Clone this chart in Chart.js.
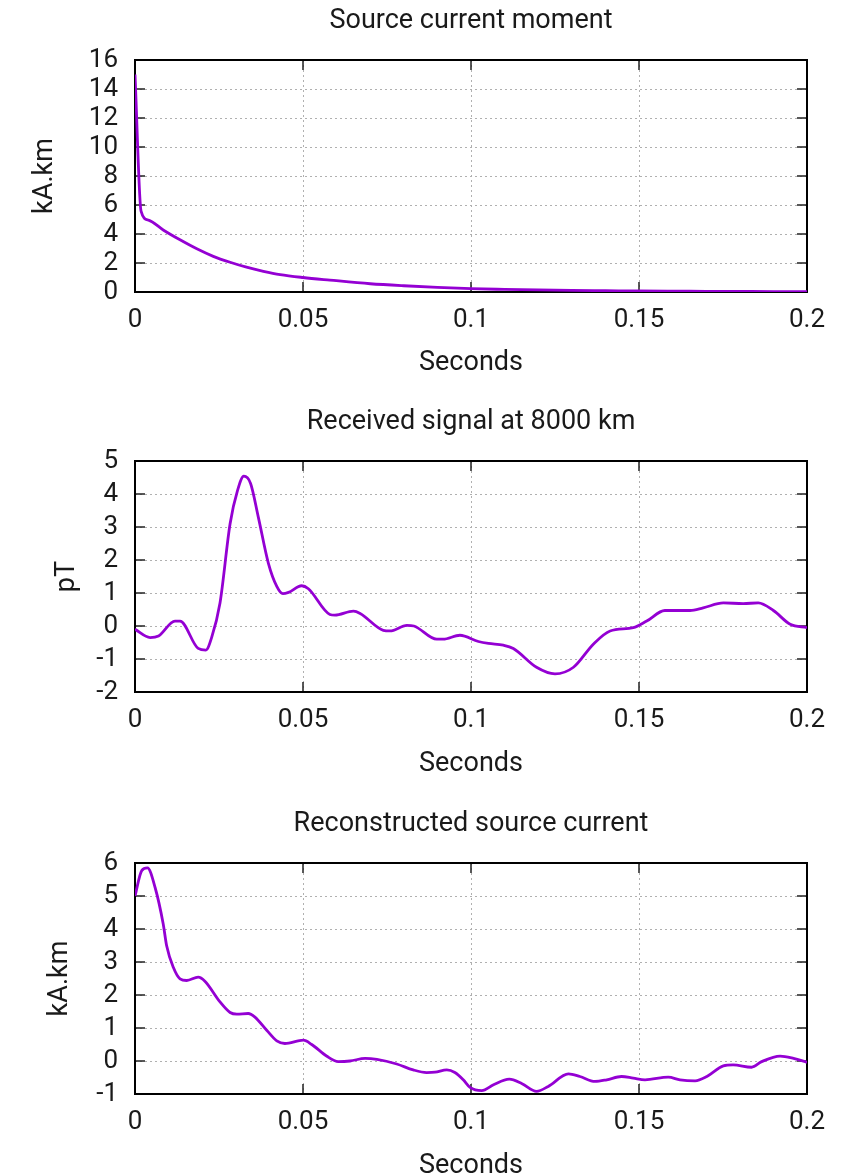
<!DOCTYPE html>
<html><head><meta charset="utf-8">
<script src="https://cdn.jsdelivr.net/npm/chart.js@4.4.1/dist/chart.umd.min.js"></script>
<style>
body{margin:0;background:#fff;width:851px;height:1175px;position:relative;overflow:hidden}
canvas{position:absolute;left:0}
</style></head><body>
<canvas id="c1" width="851" height="400" style="top:0px"></canvas>
<canvas id="c2" width="851" height="400" style="top:401px"></canvas>
<canvas id="c3" width="851" height="400" style="top:803px"></canvas>
<script>
// ---- data ----
const xTickValues = [0, 0.05, 0.1, 0.15, 0.2];
const xTickLabels = ["0", "0.05", "0.1", "0.15", "0.2"];

const srcTitle = "Source current moment";
const srcTime = [0, 0.0018, 0.004, 0.0084, 0.0134, 0.0184, 0.0233, 0.0283, 0.0332, 0.0382, 0.0432, 0.05, 0.058, 0.07, 0.08, 0.09, 0.1, 0.11, 0.12, 0.13, 0.14, 0.15, 0.16, 0.17, 0.18, 0.19, 0.2];
const srcMoment = [15, 5.58, 4.96, 4.28, 3.6, 2.98, 2.46, 2.05, 1.71, 1.43, 1.2, 1.0, 0.82, 0.57, 0.43, 0.32, 0.23, 0.18, 0.14, 0.11, 0.09, 0.07, 0.06, 0.05, 0.04, 0.03, 0.03];
const srcYTicks = [0, 2, 4, 6, 8, 10, 12, 14, 16];

const sigTitle = "Received signal at 8000 km";
const sigTime = [0, 0.0045, 0.007, 0.0119, 0.0134, 0.0188, 0.0211, 0.0228, 0.0253, 0.0283, 0.0305, 0.0324, 0.0344, 0.0367, 0.0397, 0.0422, 0.044, 0.0457, 0.0496, 0.0516, 0.058, 0.0595, 0.065, 0.067, 0.0739, 0.0759, 0.0809, 0.083, 0.0898, 0.0917, 0.0967, 0.1022, 0.1052, 0.1096, 0.1126, 0.1195, 0.125, 0.1305, 0.1364, 0.1414, 0.1483, 0.1523, 0.1577, 0.1652, 0.1691, 0.1751, 0.181, 0.1855, 0.19, 0.195, 0.2];
const sigValue = [-0.1, -0.35, -0.3, 0.15, 0.15, -0.68, -0.73, -0.35, 0.7, 3.1, 4.1, 4.54, 4.32, 3.3, 1.9, 1.2, 0.98, 1.02, 1.22, 1.13, 0.35, 0.33, 0.45, 0.38, -0.13, -0.15, 0.02, 0.0, -0.4, -0.4, -0.28, -0.47, -0.53, -0.58, -0.68, -1.25, -1.45, -1.25, -0.55, -0.15, -0.05, 0.15, 0.47, 0.47, 0.55, 0.7, 0.68, 0.7, 0.47, 0.05, -0.05];
const sigYTicks = [-2, -1, 0, 1, 2, 3, 4, 5];

const recTitle = "Reconstructed source current";
const recTime = [0, 0.002, 0.0037, 0.006, 0.0084, 0.0094, 0.0114, 0.0134, 0.0154, 0.0188, 0.0208, 0.0253, 0.0283, 0.0303, 0.0337, 0.0357, 0.0392, 0.0422, 0.0446, 0.0501, 0.0526, 0.057, 0.0605, 0.064, 0.0685, 0.072, 0.0779, 0.0828, 0.0868, 0.0893, 0.0928, 0.0952, 0.0977, 0.0997, 0.1032, 0.1067, 0.1114, 0.1152, 0.1195, 0.123, 0.129, 0.1324, 0.1369, 0.1404, 0.1448, 0.1483, 0.1518, 0.1587, 0.1622, 0.1667, 0.1702, 0.1751, 0.178, 0.1835, 0.1865, 0.192, 0.196, 0.2];
const recCurrent = [5.0, 5.77, 5.85, 5.25, 4.15, 3.5, 2.84, 2.49, 2.44, 2.54, 2.42, 1.79, 1.47, 1.42, 1.44, 1.33, 0.93, 0.61, 0.53, 0.63, 0.5, 0.15, -0.02, 0.0, 0.08, 0.05, -0.09, -0.27, -0.35, -0.34, -0.27, -0.35, -0.57, -0.8, -0.9, -0.72, -0.55, -0.69, -0.92, -0.77, -0.39, -0.47, -0.62, -0.57, -0.47, -0.52, -0.57, -0.49, -0.57, -0.6, -0.47, -0.15, -0.12, -0.19, -0.02, 0.15, 0.08, -0.04];
const recYTicks = [-1, 0, 1, 2, 3, 4, 5, 6];

// ---- styling ----
const FONT = "Roboto, 'Liberation Sans', sans-serif";
const TEXT = '#1a1a1a';
const LINE = '#9400d3';

const framePlugin = {
  id: 'frame',
  beforeDatasetsDraw(chart) {
    const {ctx, chartArea: a, scales} = chart;
    ctx.save();
    ctx.strokeStyle = '#222';
    ctx.lineWidth = 1.5;
    const L = 10;
    ctx.beginPath();
    scales.x.ticks.forEach(t => {
      const px = scales.x.getPixelForValue(t.value);
      if (px <= a.left + 1 || px >= a.right - 1) return;
      ctx.moveTo(px, a.bottom); ctx.lineTo(px, a.bottom - L);
      ctx.moveTo(px, a.top); ctx.lineTo(px, a.top + L);
    });
    scales.y.ticks.forEach(t => {
      const py = scales.y.getPixelForValue(t.value);
      if (py <= a.top + 1 || py >= a.bottom - 1) return;
      ctx.moveTo(a.left, py); ctx.lineTo(a.left + L, py);
      ctx.moveTo(a.right, py); ctx.lineTo(a.right - L, py);
    });
    ctx.stroke();
    ctx.strokeStyle = '#000';
    ctx.lineWidth = 2;
    ctx.strokeRect(a.left, a.top, a.right - a.left, a.bottom - a.top);
    ctx.restore();
  }
};

function makeChart(id, title, xs, ys, yTicks, yTitle, yTitlePad, xAxisHeight) {
  const pts = xs.map((x, i) => ({x, y: ys[i]}));
  return new Chart(document.getElementById(id), {
    type: 'line',
    data: {datasets: [{data: pts, borderColor: LINE, borderWidth: 2.8, pointRadius: 0,
      cubicInterpolationMode: 'monotone', fill: false}]},
    options: {
      responsive: false, animation: false,
      layout: {padding: {left: 0, right: 44, top: 0, bottom: 0}},
      plugins: {
        legend: {display: false}, tooltip: {enabled: false},
        title: {display: true, text: title, fullSize: false, color: TEXT,
          font: {family: FONT, size: 27, weight: 'normal'}, padding: {top: 5, bottom: 22.6}}
      },
      scales: {
        x: {
          type: 'linear', min: 0, max: 0.2,
          afterBuildTicks: s => { s.ticks = xTickValues.map(v => ({value: v})); },
          afterFit: s => { s.height = xAxisHeight; },
          ticks: {color: TEXT, font: {family: FONT, size: 26}, padding: 13, maxRotation: 0, autoSkip: false,
            callback: (v) => xTickLabels[xTickValues.indexOf(v)] ?? ''},
          grid: {color: '#b0b0b0', lineWidth: 1, drawTicks: false},
          border: {display: false, dash: [2, 3]},
          title: {display: true, text: 'Seconds', color: TEXT, font: {family: FONT, size: 27},
            padding: {top: 0, bottom: 21}}
        },
        y: {
          type: 'linear', min: yTicks[0], max: yTicks[yTicks.length - 1],
          afterBuildTicks: s => { s.ticks = yTicks.map(v => ({value: v})); },
          afterFit: s => { s.width = 135; },
          ticks: {color: TEXT, font: {family: FONT, size: 26}, padding: 17, autoSkip: false,
            callback: v => String(v)},
          grid: {color: '#b0b0b0', lineWidth: 1, drawTicks: false},
          border: {display: false, dash: [2, 3]},
          title: {display: true, text: yTitle, color: TEXT, font: {family: FONT, size: 27},
            padding: {top: yTitlePad, bottom: 0}}
        }
      }
    },
    plugins: [framePlugin]
  });
}

makeChart('c1', srcTitle, srcTime, srcMoment, srcYTicks, 'kA.km', 29, 108);
makeChart('c2', sigTitle, sigTime, sigValue, sigYTicks, 'pT', 51, 109);
makeChart('c3', recTitle, recTime, recCurrent, recYTicks, 'kA.km', 44, 109);
</script>
</body></html>
